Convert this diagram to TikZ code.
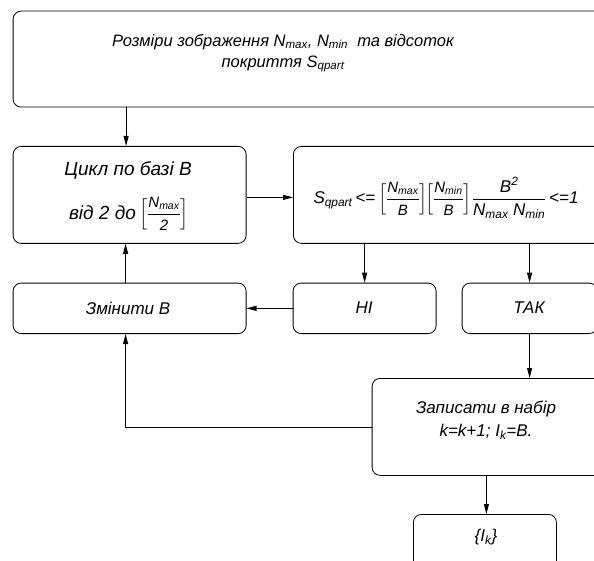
\documentclass[tikz,border=0pt]{standalone}
\usepackage{amsmath}
\usepackage{fontspec}
\setmainfont{Liberation Sans}
\usetikzlibrary{arrows.meta}
\newcommand{\lsub}[1]{\textsubscript{#1}}
\newcommand{\fsm}[1]{\mbox{\fontsize{15}{15}\selectfont\itshape #1}}
\begin{document}
\begin{tikzpicture}[x=1pt,y=-1pt,
  box/.style={draw, line width=0.8pt, rounded corners=8pt, anchor=north west, inner sep=0pt},
  txt/.style={font=\fontsize{17}{23}\selectfont\itshape, align=center, inner sep=0pt},
  arr/.style={line width=0.8pt, -{Triangle[length=10pt,width=5pt]}},
  ln/.style={line width=0.8pt}]
\useasboundingbox (0,0) rectangle (594,561);
% boxes
\node[box, minimum width=610pt, minimum height=96pt] (top) at (12.7,10.7) {};
\node[box, minimum width=233pt, minimum height=97pt] (cyc) at (12.7,146) {};
\node[box, minimum width=320pt, minimum height=97pt] (cond) at (293,146) {};
\node[box, minimum width=233pt, minimum height=50.5pt] (zm) at (12.7,282.7) {};
\node[box, minimum width=143pt, minimum height=50.5pt] (ni) at (292.7,282.7) {};
\node[box, minimum width=135pt, minimum height=50.5pt] (tak) at (461.7,282.7) {};
\node[box, minimum width=240pt, minimum height=97pt] (zap) at (371.7,378) {};
\node[box, minimum width=143pt, minimum height=80pt] (ik) at (413,514) {};
% texts
\node[txt, font=\fontsize{16.5}{21}\selectfont\itshape] (ttop) at (283,53) {Розміри зображення N\lsub{max}, N\lsub{min}\ \ та відсоток\\покриття S\lsub{qpart}};
\node[txt, font=\fontsize{19}{23}\selectfont\itshape] (tcyc1) at (128,170) {Цикл по базі B};
\node[txt, font=\fontsize{19}{23}\selectfont\itshape] (tcyc2) at (129,214) {від 2 до\,$\Bigl[\dfrac{\fsm{N\lsub{max}}}{\fsm{2}}\Bigr]$};
\node[txt] (tcond) at (446,198) {S\lsub{qpart}\,<=\,$\Bigl[\dfrac{\fsm{N\lsub{max}}}{\fsm{B}}\Bigr]\!\Bigl[\dfrac{\fsm{N\lsub{min}}}{\fsm{B}}\Bigr]\dfrac{\mbox{B\textsuperscript{2}}}{\mbox{N\lsub{max}\ N\lsub{min}}}$\,<=1};
\node[txt] (tzm) at (128,308) {Змінити B};
\node[txt] (tni) at (364,308) {НІ};
\node[txt] (ttak) at (529,308) {ТАК};
\node[txt] (tzap) at (486,420) {Записати в набір\\k=k+1; I\lsub{k}=B.};
\node[txt] (tik) at (486,537) {\{I\lsub{k}\}};
% connectors
\draw[arr] ([xshift=-3.5pt]cyc.north |- top.south) -- ([xshift=-3.5pt]cyc.north);
\draw[arr] ([yshift=-2.5pt]cyc.east) -- ([yshift=-2.5pt]cyc.east -| cond.west);
\draw[arr] (ni.north |- cond.south) -- (ni.north);
\draw[arr] (tak.north |- cond.south) -- (tak.north);
\draw[arr] (ni.west) -- (ni.west -| zm.east);
\draw[arr] ([xshift=-4pt]zm.north) -- ([xshift=-4pt]zm.north |- cyc.south);
\draw[arr] (tak.south) -- (tak.south |- zap.north);
\draw[arr] ([xshift=1.5pt]ik.north |- zap.south) -- ([xshift=1.5pt]ik.north);
\draw[arr] (zap.west) -| ([xshift=-4pt]zm.south);
\end{tikzpicture}
\end{document}
